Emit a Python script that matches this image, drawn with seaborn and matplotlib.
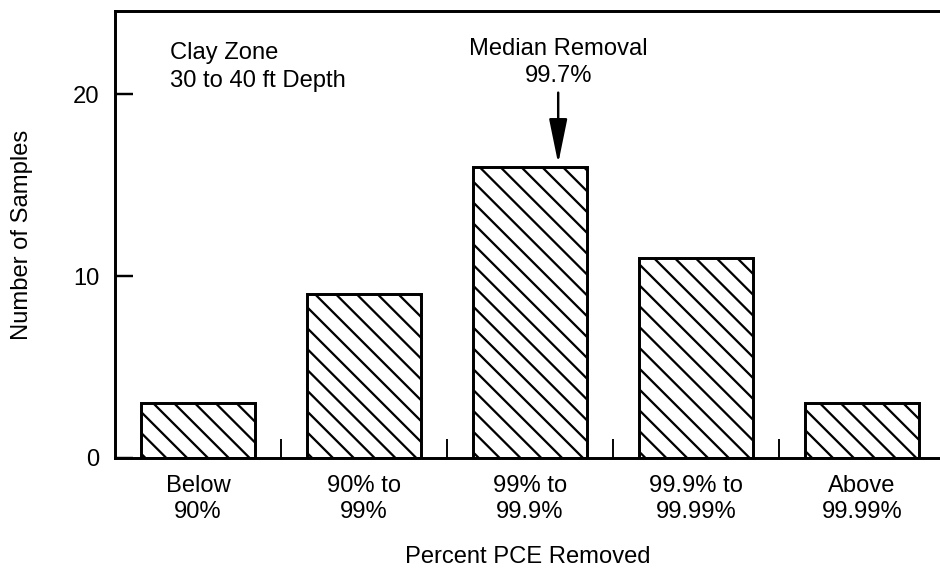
import numpy as np
import pandas as pd
import matplotlib
matplotlib.use("Agg")
import matplotlib.pyplot as plt
import seaborn as sns
from matplotlib.ticker import FixedLocator

# data
categories = ["Below\n90%", "90% to\n99%", "99% to\n99.9%", "99.9% to\n99.99%", "Above\n99.99%"]
counts = [3, 9, 16, 11, 3]
y_ticks = [0, 10, 20]
median_pos = 2.17   # where the median arrow sits along the category axis
median_label = "Median Removal\n99.7%"
zone_label = "Clay Zone\n30 to 40 ft Depth"

sns.set_style("ticks")
plt.rcParams['font.family'] = ['Liberation Sans', 'DejaVu Sans']
plt.rcParams['hatch.linewidth'] = 1.3
plt.rcParams['hatch.color'] = 'black'
for k in ['text.color', 'axes.labelcolor', 'xtick.color', 'ytick.color', 'axes.edgecolor']:
    plt.rcParams[k] = 'black'

FS = 13.7

df = pd.DataFrame({"range": categories, "n": counts})

fig = plt.figure(figsize=(7.52, 4.568), dpi=125)
ax = fig.add_axes([0.1223, 0.198, 0.8777, 0.783])

sns.barplot(data=df, x="range", y="n", color="white", edgecolor="black",
            linewidth=1.7, hatch="\\\\", width=0.69, saturation=1, ax=ax)

ax.set_xlim(-0.5, 4.47)
ax.set_ylim(0, 24.6)
ax.set_yticks(y_ticks)
ax.xaxis.set_minor_locator(FixedLocator([0.5, 1.5, 2.5, 3.5]))

ax.tick_params(axis="x", which="major", length=0, pad=10, labelsize=FS)
ax.tick_params(axis="x", which="minor", direction="in", length=11, width=1.1)
ax.tick_params(axis="y", direction="in", length=10.5, width=1.4, pad=9, labelsize=FS)

for side in ["left", "bottom", "top"]:
    ax.spines[side].set_linewidth(1.7)
ax.spines["right"].set_visible(False)

ax.set_xlabel("Percent PCE Removed", fontsize=FS, labelpad=13.5)
ax.set_ylabel("Number of Samples", fontsize=FS, labelpad=23)

ax.text(-0.17, 20.4, zone_label, fontsize=FS, va="baseline", ha="left", linespacing=1.35)

ax.text(median_pos, 20.7, median_label, fontsize=FS, va="baseline", ha="center", linespacing=1.3)
ax.annotate("", xy=(median_pos, 16.2), xytext=(median_pos, 20.1),
            arrowprops=dict(arrowstyle="-|>,head_length=2.2,head_width=0.45",
                            mutation_scale=10, color="black", lw=1.4,
                            shrinkA=0, shrinkB=0))

fig.savefig("out.png", dpi=125)
